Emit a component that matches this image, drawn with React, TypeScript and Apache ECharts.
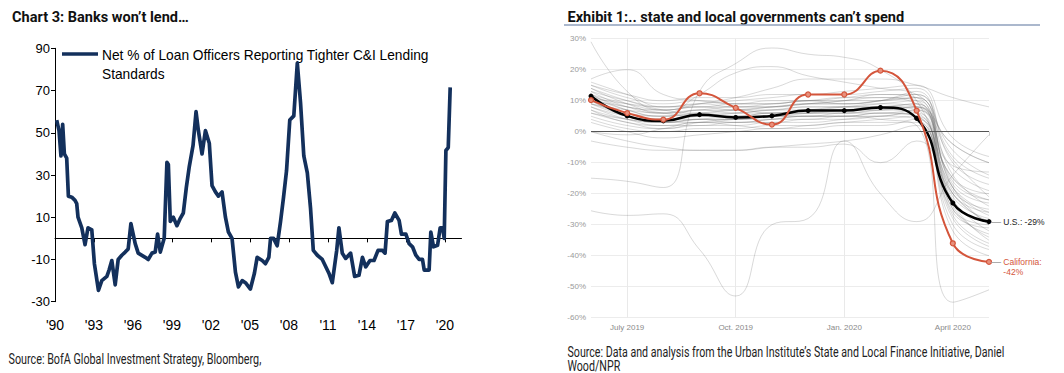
import React, { useEffect, useRef } from 'react';
import * as echarts from 'echarts';

// ---------- Left chart: Net % of loan officers tightening C&I standards ----------
const lendYears = [
  1990.13, 1990.31, 1990.46, 1990.59, 1990.72, 1990.9, 1991.03, 1991.29, 1991.54, 1991.67,
  1991.77, 1992.06, 1992.31, 1992.54, 1992.83, 1993.03, 1993.34, 1993.6, 1993.99, 1994.16,
  1994.37, 1994.63, 1994.86, 1995.14, 1995.4, 1995.63, 1995.84, 1996.17, 1996.4, 1996.94,
  1997.17, 1997.46, 1997.71, 1997.89, 1998.1, 1998.4, 1998.61, 1998.72, 1998.87, 1999.1,
  1999.38, 1999.64, 1999.87, 2000.1, 2000.33, 2000.62, 2000.85, 2001.03, 2001.31, 2001.57,
  2001.87, 2002.08, 2002.34, 2002.57, 2002.85, 2003.11, 2003.34, 2003.62, 2003.88, 2004.11,
  2004.4, 2004.65, 2005.03, 2005.34, 2005.55, 2005.94, 2006.19, 2006.45, 2006.58, 2006.81,
  2007.09, 2007.35, 2007.58, 2007.81, 2008.06, 2008.37, 2008.64, 2008.89, 2009.14, 2009.41,
  2009.66, 2009.87, 2010.18, 2010.56, 2011.07, 2011.33, 2011.67, 2011.84, 2012.1, 2012.36,
  2012.74, 2013.05, 2013.38, 2013.65, 2013.9, 2014.23, 2014.54, 2014.85, 2015.19, 2015.39,
  2015.57, 2015.88, 2016.14, 2016.47, 2016.65, 2016.99, 2017.24, 2017.5, 2017.76, 2018.01,
  2018.27, 2018.4, 2018.78, 2018.91, 2019.12, 2019.43, 2019.63, 2019.82, 2019.94, 2020.07,
  2020.25, 2020.4,
];
const lendValues = [
  56, 51, 39, 54, 40, 38, 20, 19.5, 18, 16.5,
  10, 5, -3, 5, 4, -12, -24.6, -20, -18, -15,
  -10.5, -22, -10, -8, -6.5, -5, 7, -2.5, -7, -9,
  -10, -7, -6.5, 2, -6.5, 0, 36, 35, 8, 10,
  6, 9.5, 12, 24, 34, 44, 60, 51, 40, 51,
  45, 25, 22, 20, 22, 10, 3, 0, -16, -23,
  -20, -21, -24, -16.5, -9, -10.5, -12, -9, 0, 0,
  -3.5, 8, 19.5, 32, 56, 58, 83, 64, 39, 31,
  14, -5.7, -8, -10, -16.5, -21, -5.7, 5, -7, -9.5,
  -7, -18, -17.5, -9, -13.5, -10.5, -10.5, -5.7, -5.7, -7,
  8, 8.5, 12, 8.5, 2, 2, -2.5, -4, -8, -10,
  -10, -15, -15, 3, -4, -3.3, 5, 5, 0, 41.6,
  43, 71.5,
];
const lendYTicks = [-30, -10, 10, 30, 50, 70, 90];
const lendXTicks = [0, 3, 6, 9, 12, 15, 18, 21, 24, 27, 30]; // years after 1990
const lendLegend = ['Net % of Loan Officers Reporting Tighter C&I Lending', 'Standards'];

// ---------- Right chart: state & local tax revenue change ----------
const months = ['June 2019', 'July 2019', 'Aug. 2019', 'Sept. 2019', 'Oct. 2019', 'Nov. 2019',
  'Dec. 2019', 'Jan. 2020', 'Feb. 2020', 'March 2020', 'April 2020', 'May 2020'];
const labeledMonths = [1, 4, 7, 10];
const usValues = [11.5, 5.1, 3.5, 5.5, 4.6, 5.1, 6.8, 6.8, 7.8, 4.3, -23, -29];
const caValues = [10.2, 6, 3.9, 12.4, 7.7, 2.3, 12, 12, 19.7, 6.8, -36, -42];
const otherStates = [
  [29, 13, 7, 8, 7, 8, 9, 9, 10, 11, -18, -27],
  [17, 20, 12, 10, 9, 10, 10, 11, 12, 12, -14, -24],
  [-15, -16, -18, 13, 22, 27, 25, 24, 20, 10, -15, -22],
  [-25.5, -27, -26.5, -38, -53, -30, -28, -3, -20, -29, -14, -1],
  [6, 4, 3, 4, 4, 5, 5, 5, 4, 2, -55, -51],
  [12, 8, 7, 9, 11, 14, 17, 17, 17, 15, 11, 8],
  [0, -3, -5, -6, -6, -5, -5, -4, -10, -3, -20, -30],
  [-3, -5, -6, -6, -6, -5, -4, -3, -1, 2, -22, -32],
  [0, -1, 1, 3, 2, 1, 2, 3, 4, 5, -25, -33],
  [14, 9, 6, 7, 8, 8, 9, 10, 11, 9, -4, -10],
  [16, 12, 8, 9, 10, 11, 12, 12, 13, 14, -10, -17],
  [13, 10, 8, 8, 9, 9, 10, 10, 10, 11, -16, -22],
  [12, 7, 5, 6, 7, 7, 8, 8, 9, 10, -20, -26],
  [11, 6, 4, 5, 6, 6, 7, 7, 8, 9, -18, -30],
  [10, 5, 3, 4, 5, 5, 6, 7, 7, 8, -24, -34],
  [9, 6, 4, 4, 4, 5, 6, 6, 7, 6, -27, -36],
  [8, 4, 2, 3, 3, 4, 5, 5, 6, 5, -30, -38],
  [7, 3, 2, 2, 3, 3, 4, 4, 5, 6, -21, -28],
  [13, 8, 6, 7, 6, 7, 7, 8, 9, 8, -12, -19],
  [15, 11, 9, 10, 9, 9, 10, 9, 10, 12, -8, -15],
  [11, 7, 5, 6, 5, 6, 6, 7, 8, 7, -26, -31],
  [10, 8, 6, 5, 6, 7, 8, 8, 8, 9, -19, -25],
  [9, 5, 3, 3, 4, 5, 5, 6, 6, 7, -15, -20],
  [8, 5, 4, 5, 5, 6, 6, 6, 7, 8, -23, -35],
  [12, 9, 7, 8, 8, 8, 9, 9, 10, 13, -17, -23],
  [5, 2, 1, 2, 2, 3, 3, 4, 5, 4, -28, -37],
  [4, 1, 0, 1, 1, 2, 2, 3, 3, 3, -32, -40],
  [14, 10, 7, 6, 7, 8, 9, 10, 12, 11, -11, -13],
  [6, 3, 1, 3, 4, 4, 4, 5, 5, 7, -9, -21],
  [10, 6, 5, 7, 7, 6, 7, 8, 8, 8, -4, -10],
  [7, 4, 3, 4, 3, 4, 5, 5, 6, 5, -20, -29],
  [15, 12, 10, 11, 11, 12, 12, 13, 14, 15, -2, -8],
  [3, 0, -2, -1, 0, 1, 1, 2, 2, 4, -18, -26],
  [11, 9, 8, 9, 8, 9, 10, 11, 11, 10, -25, -30],
  [9, 7, 6, 12, 19, 21, 18, 16, 14, 12, -6, -14],
];

const leftTitle = 'Chart 3: Banks won\u2019t lend\u2026';
const rightTitle = 'Exhibit 1:.. state and local governments can\u2019t spend';
const leftSource = 'Source: BofA Global Investment Strategy, Bloomberg,';
const rightSource = ['Source: Data and analysis from the Urban Institute\u2019s State and Local Finance Initiative, Daniel', 'Wood/NPR'];

const NAVY = '#13305c';
const RED = '#d4553b';

function fitScale(text: string, font: string, target: number): number {
  const c = document.createElement('canvas').getContext('2d');
  if (!c) return 1;
  c.font = font;
  const w = c.measureText(text).width;
  return w > 0 ? target / w : 1;
}

export default function App() {
  const ref = useRef<HTMLDivElement>(null);
  useEffect(() => {
    if (!ref.current) return;
    const chart = echarts.init(ref.current, undefined, { renderer: 'svg' });

    const titleFont = 'bold 15px Roboto';
    const srcFont = '14px Roboto';
    const legFont = '14px "Liberation Sans"';
    const sLT = fitScale(leftTitle, titleFont, 177);
    const sRT = fitScale(rightTitle, titleFont, 337);
    const sLS = fitScale(leftSource, srcFont, 253);
    const sRS = fitScale(rightSource[0], srcFont, 437);
    const sLeg = fitScale(lendLegend[0], legFont, 327);

    const txt = (x: number, y: number, text: string, font: string, sx: number, fill: string, weight = 'normal') => ({
      type: 'text', x, y, scaleX: sx, silent: true,
      style: {
        text, fill,
        fontFamily: font.includes('Liberation') ? '"Liberation Sans", Arial' : 'Roboto',
        fontSize: parseInt(font.match(/(\d+)px/)![1], 10),
        fontWeight: weight,
        align: 'left', verticalAlign: 'middle',
      },
    });

    const option: any = {
      animation: false,
      backgroundColor: '#ffffff',
      grid: [
        { left: 55, top: 48.3, width: 406.5, height: 253.4, outerBoundsMode: 'none', containLabel: false },
        { left: 591, top: 38.7, width: 398, height: 279, outerBoundsMode: 'none', containLabel: false },
      ],
      xAxis: [
        {
          type: 'value', gridIndex: 0, min: 0, max: 31.27, interval: 3,
          axisLine: { show: true, onZero: true, lineStyle: { color: '#000', width: 1 } },
          axisTick: { show: true, length: 4, lineStyle: { color: '#000' }, customValues: lendXTicks },
          axisLabel: {
            margin: 16, fontSize: 14, color: '#000', fontFamily: '"Liberation Sans", Arial',
            customValues: lendXTicks,
            formatter: (v: number) => "'" + String((1990 + Math.round(v)) % 100).padStart(2, '0'),
          },
          splitLine: { show: false },
        },
        {
          type: 'category', gridIndex: 1, data: months, boundaryGap: false,
          axisLine: { show: false },
          axisTick: { show: true, length: 4, interval: (i: number) => i === months.length - 1, lineStyle: { color: '#cfcfcf' } },
          axisLabel: {
            interval: (i: number) => labeledMonths.includes(i),
            fontSize: 8, color: '#8a8a8a', margin: 6, fontFamily: '"Liberation Sans", Arial',
          },
          splitLine: { show: true, interval: (i: number) => labeledMonths.includes(i), lineStyle: { color: '#e9e9e9', width: 1 } },
        },
      ],
      yAxis: [
        {
          type: 'value', gridIndex: 0, min: -30, max: 90, interval: 20,
          axisLine: { show: true, lineStyle: { color: '#000', width: 1 } },
          axisTick: { show: true, length: 4, lineStyle: { color: '#000' }, customValues: lendYTicks },
          axisLabel: { fontSize: 13, color: '#000', margin: 5, fontFamily: '"Liberation Sans", Arial', customValues: lendYTicks },
          splitLine: { show: false },
        },
        {
          type: 'value', gridIndex: 1, min: -60, max: 30, interval: 10,
          axisLine: { show: false }, axisTick: { show: false },
          axisLabel: { fontSize: 8, color: '#9a9a9a', margin: 5, fontFamily: '"Liberation Sans", Arial', formatter: (v: number) => v + '%' },
          splitLine: { show: true, lineStyle: { color: '#ececec', width: 1 } },
        },
      ],
      series: [
        {
          type: 'line', xAxisIndex: 0, yAxisIndex: 0,
          data: lendYears.map((y, i) => [y - 1990, lendValues[i]]),
          showSymbol: false, silent: true,
          lineStyle: { color: NAVY, width: 3.7, join: 'round' },
        },
        ...otherStates.map((vals) => ({
          type: 'line', xAxisIndex: 1, yAxisIndex: 1, data: vals, smooth: true,
          showSymbol: false, silent: true,
          lineStyle: { color: 'rgba(95,95,95,0.24)', width: 1 },
          z: 2,
        })),
        {
          type: 'line', xAxisIndex: 1, yAxisIndex: 1, data: usValues, smooth: true,
          symbol: 'circle', symbolSize: 5, showSymbol: true, silent: true,
          itemStyle: { color: '#000' },
          lineStyle: { color: '#000', width: 2.5 },
          z: 4,
          markLine: {
            silent: true, symbol: 'none', label: { show: false },
            lineStyle: { color: '#555', width: 1, type: 'solid' },
            data: [{ yAxis: 0 }],
          },
          endLabel: {
            show: true, distance: 2,
            formatter: () => '{d|\u2014}{t| U.S.: ' + usValues[usValues.length - 1] + '%}',
            rich: {
              d: { color: '#999', fontSize: 10, fontFamily: '"Liberation Sans", Arial' },
              t: { color: '#222', fontSize: 8.5, fontFamily: '"Liberation Sans", Arial' },
            },
          },
        },
        {
          type: 'line', xAxisIndex: 1, yAxisIndex: 1, data: caValues, smooth: true,
          symbol: 'circle', symbolSize: 5, showSymbol: true, silent: true,
          itemStyle: { color: '#e8907c', borderColor: RED, borderWidth: 1.2 },
          lineStyle: { color: RED, width: 2 },
          z: 5,
          endLabel: {
            show: true, distance: 2, offset: [0, 5],
            formatter: () => '{d|\u2014}{t| California:}\n{p| }{t| ' + caValues[caValues.length - 1] + '%}',
            rich: {
              d: { color: '#999', fontSize: 10, fontFamily: '"Liberation Sans", Arial', lineHeight: 10.5 },
              p: { width: 10, fontSize: 10, lineHeight: 10.5 },
              t: { color: RED, fontSize: 8.5, fontFamily: '"Liberation Sans", Arial', lineHeight: 10.5 },
            },
          },
        },
      ],
      graphic: [
        txt(12, 16.5, leftTitle, titleFont, sLT, '#111', 'bold'),
        txt(567.5, 16.5, rightTitle, titleFont, sRT, '#111', 'bold'),
        { type: 'line', silent: true, shape: { x1: 564, y1: 25, x2: 1040, y2: 25 }, style: { stroke: '#8fa1bd', lineWidth: 1.5 } },
        { type: 'line', silent: true, shape: { x1: 62, y1: 54, x2: 98, y2: 54 }, style: { stroke: NAVY, lineWidth: 3.7 } },
        txt(102, 55, lendLegend[0], legFont, sLeg, '#000'),
        txt(102, 73.5, lendLegend[1], legFont, sLeg, '#000'),
        txt(8.5, 358.5, leftSource, srcFont, sLS, '#222'),
        txt(567.5, 352, rightSource[0], srcFont, sRS, '#222'),
        txt(567.5, 365.5, rightSource[1], srcFont, sRS, '#222'),
      ],
    };
    chart.setOption(option);
    return () => chart.dispose();
  }, []);
  return <div ref={ref} style={{ position: 'absolute', left: 0, top: 0, width: 1064, height: 373, background: '#fff' }} />;
}
